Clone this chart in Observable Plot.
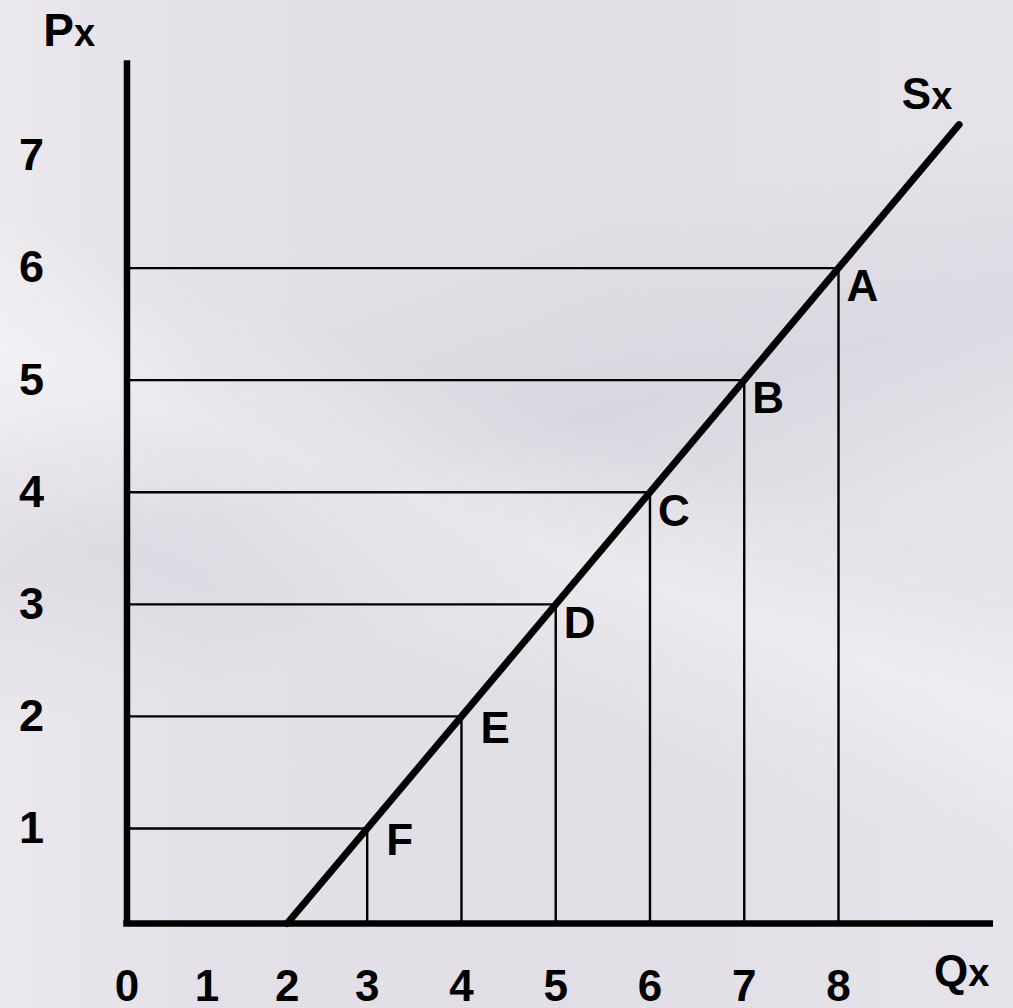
<!DOCTYPE html>
<html>
<head>
<meta charset="utf-8">
<script src="https://cdn.jsdelivr.net/npm/d3@7"></script>
<script src="https://cdn.jsdelivr.net/npm/@observablehq/plot@0.6"></script>
<style>
html, body { margin: 0; padding: 0; }
body {
  width: 1013px; height: 1008px; overflow: hidden;
  background:
    linear-gradient(200deg, rgba(255,255,255,0) 0%, rgba(255,255,255,0) 42%, rgba(255,255,255,0.35) 52%, rgba(255,255,255,0) 64%),
    linear-gradient(165deg, rgba(255,255,255,0) 30%, rgba(205,200,212,0.35) 45%, rgba(255,255,255,0) 58%),
    linear-gradient(90deg, #ebe9ee 0%, #e3e0e7 20%, #e1dee5 60%, #e6e3ea 100%);
}
#chart svg { display: block; }
</style>
</head>
<body>
<div id="chart"></div>
<script>
// Tick labels
const xTicks = [0, 1, 2, 3, 4, 5, 6, 7, 8];
const yTicks = [1, 2, 3, 4, 5, 6, 7];

// Points on the supply schedule
const pointLabels = ["A", "B", "C", "D", "E", "F"];
const pointQ = [8, 7, 6, 5, 4, 3];
const pointP = [6, 5, 4, 3, 2, 1];

// Supply curve Sx
const supplyQ = [2, 3, 8, 9.28];
const supplyP = [0, 1, 6, 7.28];

// Axis extents
const axisXEnd = 9.61;
const axisYEnd = 7.85;

const points = pointLabels.map((label, i) => ({label, q: pointQ[i], p: pointP[i]}));
const supply = supplyQ.map((q, i) => ({q, p: supplyP[i]}));

const font = "'Liberation Sans', Arial, Helvetica, sans-serif";
const bold = {fontFamily: font, fontWeight: "bold", fill: "black"};

const chart = Plot.plot({
  width: 1013,
  height: 1008,
  marginLeft: 126.5,
  marginRight: 10,
  marginTop: 10,
  marginBottom: 85,
  style: {background: "transparent", fontFamily: font, overflow: "visible"},
  x: {type: "linear", domain: [0, 3, 8], range: [126.5, 366.7, 838]},
  y: {type: "linear", domain: [0, 1, 7], range: [923, 828, 155.5]},
  marks: [
    // thin guide lines
    Plot.ruleY(points, {y: "p", x1: 0, x2: "q", stroke: "black", strokeWidth: 2.4}),
    Plot.ruleX(points, {x: "q", y1: 0, y2: "p", stroke: "black", strokeWidth: 2.4}),
    // axes
    Plot.ruleX([0], {y1: 0, y2: axisYEnd, stroke: "black", strokeWidth: 6.5}),
    Plot.ruleY([0], {x1: 0, x2: axisXEnd, stroke: "black", strokeWidth: 6.5, strokeLinecap: "square"}),
    // supply curve
    Plot.line(supply, {x: "q", y: "p", stroke: "black", strokeWidth: 7}),
    // tick labels
    Plot.axisX({ticks: xTicks, tickSize: 0, tickPadding: 46, fontSize: 44, fontWeight: "bold", fill: "black", tickFormat: d => String(d), label: null}),
    Plot.axisY({ticks: yTicks, tickSize: 0, tickPadding: 83, fontSize: 45, fontWeight: "bold", fill: "black", tickFormat: d => String(d), label: null}),
    // point labels
    Plot.text(points, {filter: d => d.p >= 3, x: "q", y: "p", text: "label", textAnchor: "start", lineAnchor: "top", dx: 8, dy: 2, fontSize: 44, ...bold}),
    Plot.text(points, {filter: d => d.p < 3, x: "q", y: "p", text: "label", textAnchor: "start", lineAnchor: "top", dx: 19, dy: -5, fontSize: 44, ...bold}),
    // axis titles: Px
    Plot.text([0], {x: 0, y: axisYEnd, text: () => "P", textAnchor: "end", lineAnchor: "bottom", dx: -53, dy: -15, fontSize: 46, ...bold}),
    Plot.text([0], {x: 0, y: axisYEnd, text: () => "x", textAnchor: "start", lineAnchor: "bottom", dx: -53, dy: -15, fontSize: 38, ...bold}),
    // Sx
    Plot.text([0], {x: supplyQ[3], y: supplyP[3], text: () => "S", textAnchor: "end", lineAnchor: "bottom", dx: -28, dy: -16, fontSize: 44, ...bold}),
    Plot.text([0], {x: supplyQ[3], y: supplyP[3], text: () => "x", textAnchor: "start", lineAnchor: "bottom", dx: -28, dy: -16, fontSize: 38, ...bold}),
    // Qx
    Plot.text([0], {x: axisXEnd, y: 0, text: () => "Q", textAnchor: "end", lineAnchor: "bottom", dx: -22, dy: 62, fontSize: 44, ...bold}),
    Plot.text([0], {x: axisXEnd, y: 0, text: () => "x", textAnchor: "start", lineAnchor: "bottom", dx: -22, dy: 62, fontSize: 38, ...bold})
  ]
});

document.getElementById("chart").appendChild(chart);
</script>
</body>
</html>
